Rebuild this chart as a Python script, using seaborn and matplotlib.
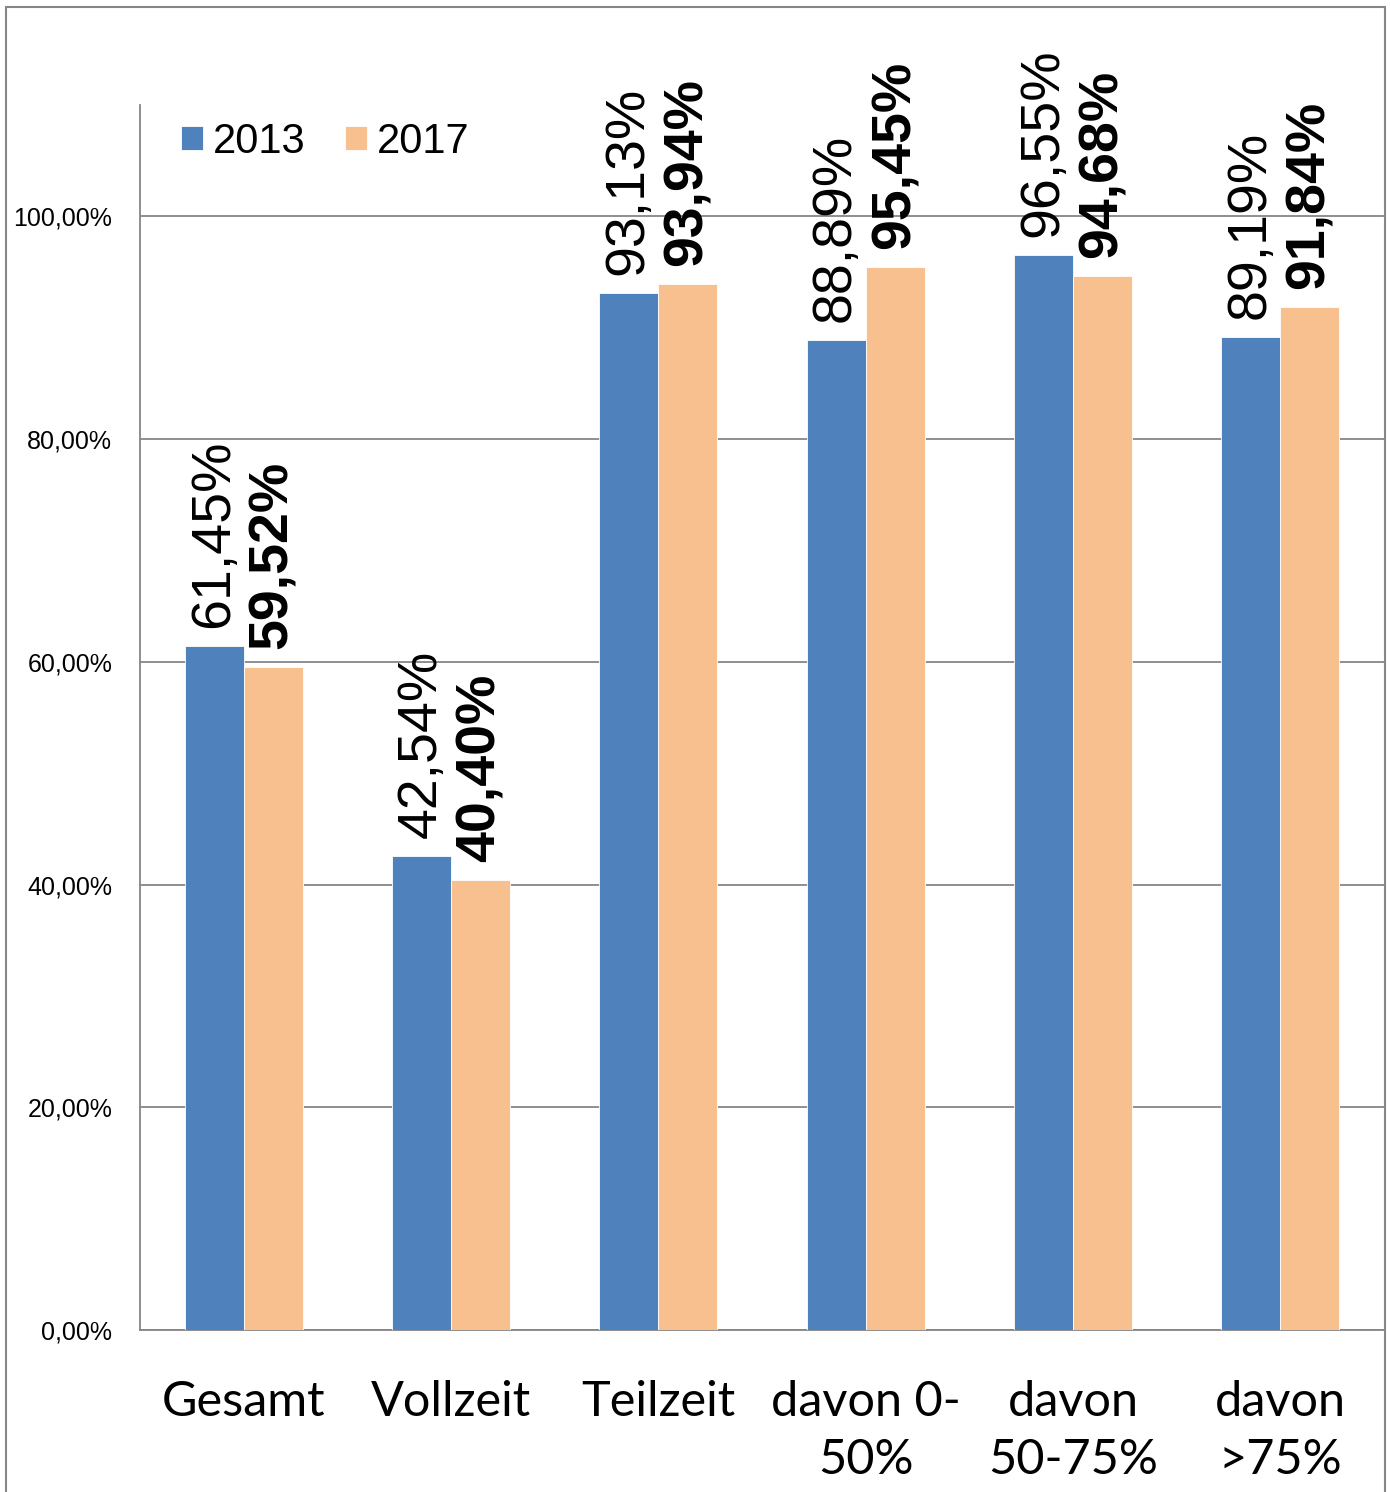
import pandas as pd
import matplotlib.pyplot as plt
import matplotlib.patches as mpatches
import seaborn as sns

# Data
categories = ['Gesamt', 'Vollzeit', 'Teilzeit', 'davon 0-\n50%', 'davon\n50-75%', 'davon\n>75%']
years = ['2013', '2017']
vals_2013 = [61.45, 42.54, 93.13, 88.89, 96.55, 89.19]
vals_2017 = [59.52, 40.40, 93.94, 95.45, 94.68, 91.84]

df = pd.DataFrame({
    'Kategorie': categories * 2,
    'Jahr': [years[0]] * len(categories) + [years[1]] * len(categories),
    'Wert': vals_2013 + vals_2017,
})

sns.set_style("white")
plt.rcParams['font.family'] = ['Liberation Sans', 'DejaVu Sans']
plt.rcParams['text.color'] = 'black'
plt.rcParams['xtick.color'] = 'black'
plt.rcParams['ytick.color'] = 'black'

colors = ['#4F81BD', '#F9C08F']

fig = plt.figure(figsize=(13.9, 14.92), dpi=100)
ax = fig.add_axes([140/1390, 1 - 1330/1492, 1244/1390, 1225/1492])

sns.barplot(data=df, x='Kategorie', y='Wert', hue='Jahr', palette=colors,
            saturation=1, width=0.57, ax=ax, edgecolor='white', linewidth=0.6, zorder=3)

ax.set_ylim(0, 110)
ax.set_xlim(-0.5, 5.5)
ax.set_yticks([0, 20, 40, 60, 80, 100])
ax.set_yticklabels([f'{v:.2f}'.replace('.', ',') + '%' for v in [0, 20, 40, 60, 80, 100]],
                   fontsize=18, color='black')
ax.yaxis.grid(True, color='#868686', linewidth=1.3, zorder=0)
ax.set_axisbelow(True)
ax.tick_params(axis='y', length=0, pad=20)
ax.tick_params(axis='x', length=0, pad=36)
ax.set_xticks(range(len(categories)))
ax.set_xticklabels(categories, fontsize=35, family=['Lato', 'DejaVu Sans'],
                   linespacing=1.38, color='black')
ax.set_xlabel('')
ax.set_ylabel('')
for side in ['top', 'right']:
    ax.spines[side].set_visible(False)
for side in ['left', 'bottom']:
    ax.spines[side].set_color('#868686')
    ax.spines[side].set_linewidth(1.3)

# value labels
fmt = lambda v: f'{v:.2f}'.replace('.', ',') + '%'
ax.bar_label(ax.containers[0], labels=[fmt(v) for v in vals_2013], rotation=90,
             padding=13, fontsize=40, color='black')
ax.bar_label(ax.containers[1], labels=[fmt(v) for v in vals_2017], rotation=90,
             padding=13, fontsize=40, fontweight='bold', color='black')

leg = ax.legend(loc='center left', bbox_to_anchor=(0.033, 0.97), ncol=2, frameon=False,
                fontsize=30, handlelength=0.53, handleheight=0.53, handletextpad=0.24,
                columnspacing=0.94, borderpad=0, borderaxespad=0)
for t in leg.get_texts():
    t.set_color('black')

# outer frame
frame = mpatches.Rectangle((6/1390, -0.01), 1379/1390, 1.01 - 7/1492,
                           transform=fig.transFigure, fill=False,
                           edgecolor='#868686', linewidth=1.5, clip_on=False)
fig.patches.append(frame)

plt.savefig('out.png', dpi=100)
